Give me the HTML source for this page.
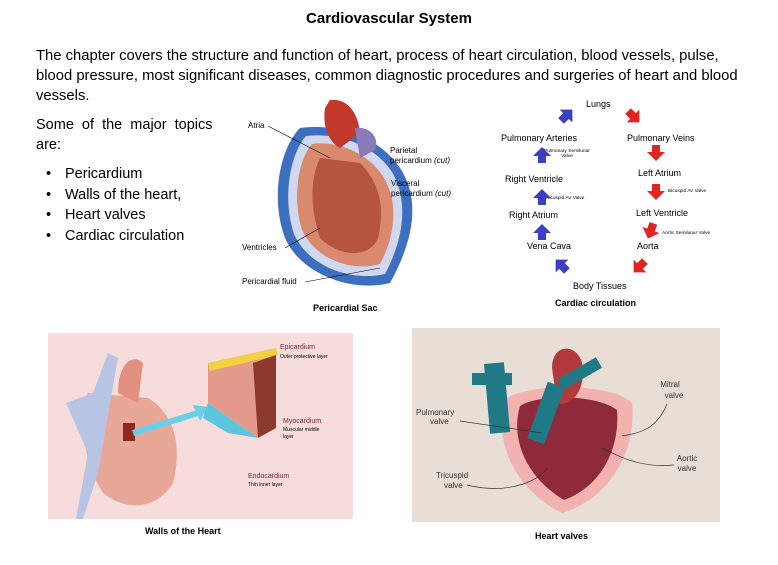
<!DOCTYPE html>
<html><head><style>
body{margin:0;width:778px;height:565px;background:#fff;position:relative;overflow:hidden;font-family:"Liberation Sans",sans-serif;color:#000}
.a{position:absolute;white-space:nowrap}
.c{font-size:9px}
.t{font-size:4.8px}
.cap{font-size:9px;font-weight:bold}
</style></head><body>
<div class="a" style="left:0;width:778px;text-align:center;top:10px;font-size:15px;font-weight:bold">Cardiovascular System</div>
<div class="a" style="left:36px;top:46px;font-size:14.8px;line-height:20px;white-space:normal;width:715px">The chapter covers the structure and function of heart, process of heart circulation, blood vessels, pulse, blood pressure, most significant diseases, common diagnostic procedures and surgeries of heart and blood vessels.</div>
<div class="a" style="left:36px;top:115px;font-size:14.5px;line-height:20px">Some &nbsp;of &nbsp;the &nbsp;major &nbsp;topics<br>are:</div>
<ul class="a" style="left:9px;top:164px;margin:0;font-size:14.5px;line-height:20.7px;padding-left:56px;list-style:none">
<li>Pericardium</li><li>Walls of the heart,</li><li>Heart valves</li><li>Cardiac circulation</li></ul>
<div class="a" style="left:46px;top:164px;font-size:14.5px;line-height:20.7px">•<br>•<br>•<br>•</div>

<!-- Pericardial sac -->
<svg class="a" style="left:230px;top:88px" width="250" height="215">
<path d="M70 40 C50 60 40 110 55 150 C70 185 120 205 160 195 C185 150 190 110 170 80 C150 50 110 35 70 40Z" fill="#3d6fbf"/>
<path d="M76 48 C60 66 52 110 64 146 C78 178 120 194 155 186 C175 148 178 112 162 84 C145 58 110 44 76 48Z" fill="#cfd8ee"/>
<path d="M82 56 C68 72 62 110 72 142 C86 172 122 184 150 176 C166 146 168 114 154 90 C140 66 108 52 82 56Z" fill="#d98a6e"/>
<path d="M90 70 C80 90 80 120 90 150 C110 170 140 170 148 150 C155 120 150 95 130 75Z" fill="#b5543f"/>
<path d="M95 20 C92 40 100 55 110 60 L130 45 C128 25 118 10 100 12Z" fill="#c0392b"/>
<path d="M125 40 C140 38 150 50 145 62 L130 70Z" fill="#8a7ab8"/>
<text x="18" y="40" font-size="8">Atria</text>
<text x="160" y="65" font-size="8">Parietal</text><text x="160" y="75" font-size="8">pericardium <tspan font-style="italic">(cut)</tspan></text>
<text x="161" y="98" font-size="8">Visceral</text><text x="161" y="108" font-size="8">pericardium <tspan font-style="italic">(cut)</tspan></text>
<text x="12" y="162" font-size="8">Ventricles</text>
<text x="12" y="196" font-size="8">Pericardial fluid</text>
<line x1="38" y1="38" x2="100" y2="70" stroke="#000" stroke-width=".6"/>
<line x1="55" y1="160" x2="90" y2="140" stroke="#000" stroke-width=".6"/>
<line x1="75" y1="194" x2="150" y2="180" stroke="#000" stroke-width=".6"/>
</svg>
<div class="a cap" style="left:313px;top:303px">Pericardial Sac</div>

<!-- Cardiac circulation -->
<div class="a c" style="left:586px;top:99px">Lungs</div>
<div class="a c" style="left:501px;top:133px">Pulmonary Arteries</div>
<div class="a c" style="left:627px;top:133px">Pulmonary Veins</div>
<div class="a t" style="left:544px;top:149px;text-align:center">Pulmonary Semilunar<br>Valve</div>
<div class="a c" style="left:505px;top:174px">Right Ventricle</div>
<div class="a c" style="left:638px;top:168px">Left Atrium</div>
<div class="a t" style="left:545px;top:196px">Tricuspid AV Valve</div>
<div class="a t" style="left:668px;top:189px">Bicuspid AV Valve</div>
<div class="a c" style="left:509px;top:210px">Right Atrium</div>
<div class="a c" style="left:636px;top:208px">Left Ventricle</div>
<div class="a t" style="left:662px;top:231px">Aortic Semilunar Valve</div>
<div class="a c" style="left:527px;top:241px">Vena Cava</div>
<div class="a c" style="left:637px;top:241px">Aorta</div>
<div class="a c" style="left:573px;top:281px">Body Tissues</div>
<div class="a cap" style="left:555px;top:298px">Cardiac circulation</div>
<svg class="a" style="left:490px;top:90px" width="250" height="200">
<defs>
<path id="ar" d="M-4 7 L-4 0 L-9 0 L0 -9 L9 0 L4 0 L4 7Z"/>
</defs>
<g fill="#3b3fc4">
<use href="#ar" transform="translate(76,26) rotate(45)"/>
<use href="#ar" transform="translate(52,66)"/>
<use href="#ar" transform="translate(52,108)"/>
<use href="#ar" transform="translate(52,143)"/>
<use href="#ar" transform="translate(72,176) rotate(-45)"/>
</g>
<g fill="#e02424">
<use href="#ar" transform="translate(143,26) rotate(135)"/>
<use href="#ar" transform="translate(166,62) rotate(180)"/>
<use href="#ar" transform="translate(166,101) rotate(180)"/>
<use href="#ar" transform="translate(161,140) rotate(200)"/>
<use href="#ar" transform="translate(150,176) rotate(225)"/>
</g>
</svg>

<!-- Walls of heart -->
<div class="a" style="left:48px;top:333px;width:305px;height:186px;background:#f7dcdc"></div>
<svg class="a" style="left:48px;top:333px" width="305" height="186">
<path d="M40 60 C30 80 35 130 55 160 C80 180 110 175 125 150 C135 110 125 80 100 65Z" fill="#e8a898"/>
<path d="M18 70 L45 60 L60 20 L70 25 L62 70 L50 140 L35 186 L28 186 L40 120Z" fill="#b8c4e4"/>
<path d="M70 60 C70 30 85 20 95 30 L90 70Z" fill="#e49080"/>
<rect x="75" y="90" width="12" height="18" fill="#8c2a20"/>
<path d="M85 100 L150 80" stroke="#6ad0e8" stroke-width="6"/>
<polygon points="160,74 145,72 152,88" fill="#6ad0e8"/>
<polygon points="160,30 228,15 228,95 210,105 160,70" fill="#e39a8a"/>
<polygon points="160,30 228,15 230,22 162,38" fill="#f2d040"/>
<polygon points="205,30 228,22 228,95 210,105" fill="#8c3a2c"/>
<polygon points="160,70 210,105 180,100 155,85" fill="#5cc6dc"/>
<text x="232" y="16" font-size="7" fill="#7a1e2e">Epicardium</text>
<text x="232" y="25" font-size="5">Outer protective layer</text>
<text x="235" y="90" font-size="7" fill="#7a1e2e">Myocardium</text>
<text x="235" y="98" font-size="5">Muscular middle</text><text x="235" y="105" font-size="5">layer</text>
<text x="200" y="145" font-size="7" fill="#7a1e2e">Endocardium</text>
<text x="200" y="153" font-size="5">Thin inner layer</text>
</svg>
<div class="a cap" style="left:145px;top:526px">Walls of the Heart</div>

<!-- Heart valves -->
<div class="a" style="left:412px;top:328px;width:308px;height:194px;background:#e8ded6"></div>
<svg class="a" style="left:412px;top:328px" width="308" height="194">
<path d="M95 70 C80 110 100 160 150 185 C200 170 225 120 220 75 C200 55 120 55 95 70Z" fill="#f2b3b0"/>
<path d="M108 78 C98 112 115 150 152 172 C190 158 208 120 205 82 C185 66 125 66 108 78Z" fill="#8e2a3a"/>
<path d="M140 40 C140 15 165 15 170 35 C175 60 160 80 145 75Z" fill="#b33a3a"/>
<rect x="75" y="35" width="20" height="70" fill="#1f7a86" transform="rotate(-5 85 70)"/>
<rect x="60" y="45" width="40" height="12" fill="#1f7a86"/>
<rect x="125" y="55" width="18" height="60" fill="#1f7a86" transform="rotate(20 134 85)"/>
<rect x="145" y="40" width="45" height="12" fill="#1f7a86" transform="rotate(-30 167 46)"/>
<g font-size="8" fill="#333">
<text x="258" y="59" text-anchor="middle">Mitral</text><text x="262" y="70" text-anchor="middle">valve</text>
<text x="4" y="87">Pulmonary</text><text x="18" y="96">valve</text>
<text x="275" y="133" text-anchor="middle">Aortic</text><text x="275" y="143" text-anchor="middle">valve</text>
<text x="24" y="150">Tricuspid</text><text x="32" y="160">valve</text>
</g>
<g stroke="#333" stroke-width=".7" fill="none">
<path d="M48 93 L130 105"/><path d="M255 76 C245 100 230 105 210 108"/>
<path d="M262 137 C230 140 210 130 190 120"/><path d="M55 157 C100 168 130 150 135 140"/>
</g>
</svg>
<div class="a cap" style="left:535px;top:531px">Heart valves</div>
</body></html>
